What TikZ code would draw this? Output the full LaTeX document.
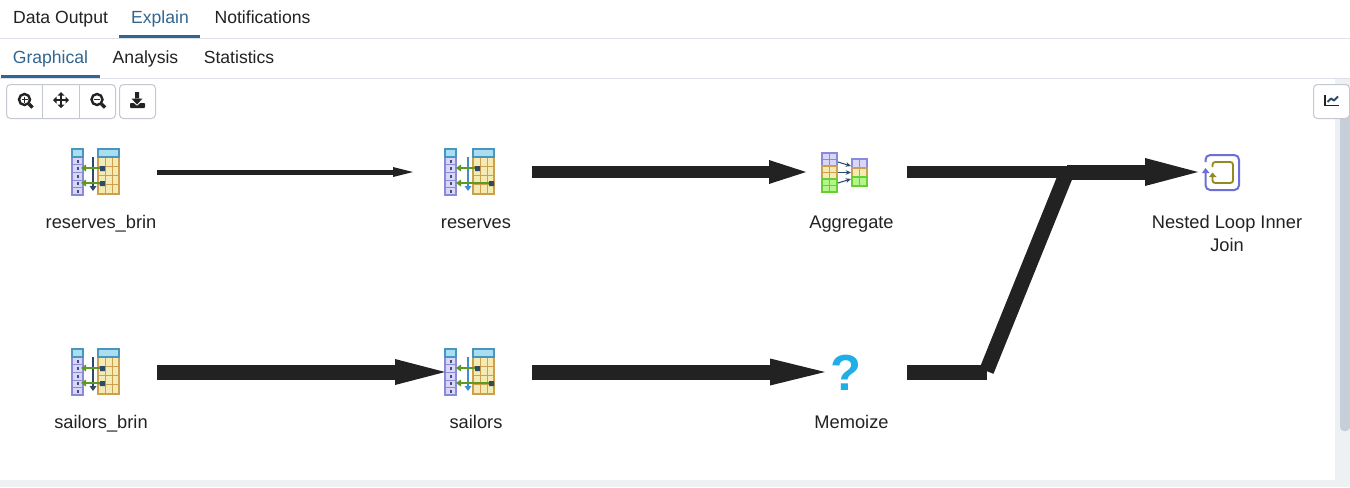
\documentclass[tikz,border=0pt]{standalone}
\usepackage{fontspec}
\setmainfont{Liberation Sans}
\usetikzlibrary{arrows.meta}
\definecolor{ink}{HTML}{222222}
\definecolor{tabblue}{HTML}{326690}
\definecolor{rulec}{HTML}{DDE0E6}
\definecolor{btn}{HTML}{C4C8D0}
\definecolor{scrolltrack}{HTML}{EEF1F4}
\definecolor{scrollthumb}{HTML}{C6CEDA}
\definecolor{lav}{HTML}{D8D8F6}
\definecolor{lavb}{HTML}{8A8ADA}
\definecolor{hdr}{HTML}{A8DEF0}
\definecolor{hdrb}{HTML}{4A94C0}
\definecolor{yel}{HTML}{F3EAB4}
\definecolor{yelb}{HTML}{CDA050}
\definecolor{grn}{HTML}{B4F58C}
\definecolor{grnb}{HTML}{66D030}
\definecolor{arrg}{HTML}{5F9A20}
\definecolor{barblue}{HTML}{3E8FD0}
\definecolor{bardark}{HTML}{2F4A66}
\definecolor{loopb}{HTML}{6A70D8}
\definecolor{loopo}{HTML}{958A20}
\definecolor{qm}{HTML}{1FAEE6}
\tikzset{
  x=0.75pt,y=-0.75pt,
  tab/.style={font=\fontsize{13.2}{15}\selectfont,text=ink,inner sep=0pt,anchor=base},
  tabon/.style={tab,text=tabblue},
  lbl/.style={font=\fontsize{13.7}{17.25}\selectfont,text=ink,inner sep=0pt,align=center,anchor=base},
  anchorbox/.style={inner sep=0pt,minimum size=1pt},
  btnbox/.style={draw=btn,line width=0.75pt,rounded corners=3pt,fill=white},
  conn/.style n args={3}{draw=ink,line width=#1*0.75pt,-{Triangle[length=#2*0.75pt,width=#3*0.75pt,line width=0pt,sep=0pt]}},
  thickline/.style={draw=ink,line width=#1*0.75pt},
  leftcol/.pic={
    \fill[lav] (-24,-15) rectangle (-13,23);
    \fill[hdr] (-24,-23) rectangle (-13,-15);
    \draw[lavb,line width=0.9pt] (-24,-15) rectangle (-13,23);
    \foreach \y in {-7.5,0,8,15.5} \draw[lavb,line width=0.7pt] (-24,\y) -- (-13,\y);
    \draw[hdrb,line width=0.9pt] (-24,-23) rectangle (-13,-15);
    \foreach \y in {-11,-4,4,11.5,19} \fill[black!45!lavb] (-19.5,\y-1.5) rectangle (-17.5,\y+1.5);
  },
  righttab/.pic={
    \fill[yel] (2,-15) rectangle (23,22);
    \fill[hdr] (2,-23) rectangle (23,-15);
    \draw[yelb,line width=0.9pt] (2,-15) rectangle (23,22);
    \foreach \y in {-6,3,12.5} \draw[yelb,line width=0.7pt] (2,\y) -- (23,\y);
    \foreach \x in {9,16} \draw[yelb,line width=0.7pt] (\x,-15) -- (\x,22);
    \draw[hdrb,line width=0.9pt] (2,-23) rectangle (23,-15);
  },
}
\begin{document}
\begin{tikzpicture}
\useasboundingbox (0,0) rectangle (1350,487);
\fill[white] (0,0) rectangle (1350,487);
% scroll areas
\fill[scrolltrack] (1335,79) rectangle (1350,487);
\fill[scrolltrack] (0,480) rectangle (1350,487);
\fill[scrollthumb,rounded corners=3pt] (1340,100) rectangle (1350,431);
% tabs
\draw[rulec,line width=0.75pt] (0,38.5) -- (1350,38.5);
\draw[rulec,line width=0.75pt] (0,78.5) -- (1350,78.5);
\node[tab] (t1) at (60.5,23) {Data Output};
\node[tabon] (t2) at (160,23) {Explain};
\node[tab] (t3) at (262.5,23) {Notifications};
\fill[tabblue] (119,35) rectangle (200,38);
\node[tabon] (t4) at (50.5,63) {Graphical};
\node[tab] (t5) at (145.5,63) {Analysis};
\node[tab] (t6) at (239,63) {Statistics};
\fill[tabblue] (1,75) rectangle (100,78);
% toolbar
\draw[btnbox] (6.5,84.5) rectangle (115.5,118.5);
\draw[btn,line width=0.75pt] (42.5,84.5) -- (42.5,118.5) (79.5,84.5) -- (79.5,118.5);
\draw[btnbox] (119.5,84.5) rectangle (155.5,118.5);
\draw[btnbox] (1313.5,84.5) rectangle (1349.5,118.5);
% magnifiers
\draw[ink,line width=1.8pt] (24.5,99.5) circle (5.5);
\draw[ink,line width=2.4pt] (29,104) -- (32.5,107.5);
\draw[ink,line width=1.2pt] (21.5,99.5) -- (27.5,99.5) (24.5,96.5) -- (24.5,102.5);
\draw[ink,line width=1.8pt] (97,99.5) circle (5.5);
\draw[ink,line width=2.4pt] (101.5,104) -- (105,107.5);
\draw[ink,line width=1.2pt] (94,99.5) -- (100,99.5);
% move
\draw[ink,line width=1.2pt] (54,100) -- (68,100) (61,93) -- (61,107);
\fill[ink] (61,92) -- (64.5,95.5) -- (57.5,95.5) -- cycle
  (61,108) -- (64.5,104.5) -- (57.5,104.5) -- cycle
  (53,100) -- (56.5,96.5) -- (56.5,103.5) -- cycle
  (69,100) -- (65.5,96.5) -- (65.5,103.5) -- cycle;
% download
\fill[ink] (135,92) rectangle (139,99) (131.5,98.5) -- (142.5,98.5) -- (137,104.5) -- cycle;
\fill[ink,rounded corners=0.6pt] (130,103) -- (134,103) -- (137,106) -- (140,103) -- (145,103) -- (145,108) -- (130,108) -- cycle;
% chart
\draw[ink,line width=1.1pt] (1325,95) -- (1325,105.5) -- (1339,105.5);
\draw[bardark,line width=1.5pt,line join=round] (1327.5,102) -- (1331,98.5) -- (1334,100.5) -- (1338,96.5);
% scan icons, index type
\foreach \cx/\cy in {96/172,96/372}{
  \begin{scope}[shift={(\cx,\cy)}]
    \pic {leftcol};
    \pic {righttab};
    \draw[bardark,line width=1.4pt] (-3,-15) -- (-3,15);
    \fill[bardark] (-6.5,14) -- (0.5,14) -- (-3,19) -- cycle;
    \fill[bardark] (4,-6) rectangle (9,-1) (4,9) rectangle (9,14);
    \draw[arrg,line width=1.5pt] (4,-4) -- (-12,-4) (4,11) -- (-12,11);
    \fill[arrg] (-15,-4) -- (-10,-7.5) -- (-10,-0.5) -- cycle (-15,11) -- (-10,7.5) -- (-10,14.5) -- cycle;
  \end{scope}
}
% scan icons, heap type
\foreach \cx/\cy in {471/172,471/372}{
  \begin{scope}[shift={(\cx,\cy)}]
    \pic at (-2,0) {leftcol};
    \pic {righttab};
    \draw[barblue,line width=1.7pt] (-3,-15) -- (-3,15);
    \fill[barblue] (-6.5,14) -- (0.5,14) -- (-3,19) -- cycle;
    \fill[bardark] (4,-6) rectangle (9,-1) (18,9) rectangle (23,14);
    \draw[arrg,line width=1.5pt] (4,-4) -- (-12,-4) (18,11) -- (-12,11);
    \fill[arrg] (-15,-4) -- (-10,-7.5) -- (-10,-0.5) -- cycle (-15,11) -- (-10,7.5) -- (-10,14.5) -- cycle;
  \end{scope}
}
% aggregate icon
\begin{scope}[shift={(845,172)}]
  \fill[lav] (-23,-19) rectangle (-8,-6);
  \fill[yel] (-23,-6) rectangle (-8,7);
  \fill[grn] (-23,7) rectangle (-8,20);
  \draw[lavb,line width=.8pt] (-23,-19) rectangle (-8,-6) (-15.5,-19)--(-15.5,-6) (-23,-12.5)--(-8,-12.5);
  \draw[yelb,line width=.8pt] (-23,-6) rectangle (-8,7) (-15.5,-6)--(-15.5,7) (-23,.5)--(-8,.5);
  \draw[grnb,line width=.8pt] (-23,7) rectangle (-8,20) (-15.5,7)--(-15.5,20) (-23,13.5)--(-8,13.5);
  \fill[lav] (7,-13) rectangle (22,-4);
  \fill[yel] (7,-4) rectangle (22,5);
  \fill[grn] (7,5) rectangle (22,14);
  \draw[lavb,line width=.8pt] (7,-13) rectangle (22,-4) (14.5,-13)--(14.5,-4);
  \draw[yelb,line width=.8pt] (7,-4) rectangle (22,5) (14.5,-4)--(14.5,5);
  \draw[grnb,line width=.8pt] (7,5) rectangle (22,14) (14.5,5)--(14.5,14);
  \draw[bardark,line width=.8pt,-{Stealth[length=4pt,width=3.5pt]}] (-7,-10) -- (6,-6);
  \draw[bardark,line width=.8pt,-{Stealth[length=4pt,width=3.5pt]}] (-7,0.5) -- (6,0.5);
  \draw[bardark,line width=.8pt,-{Stealth[length=4pt,width=3.5pt]}] (-7,11) -- (6,7);
\end{scope}
% nested loop icon
\begin{scope}[shift={(1222,172)}]
  \draw[loopb,line width=1.5pt,rounded corners=3.5pt] (-16.5,-10) -- (-16.5,-17) -- (17,-17) -- (17,18) -- (-16.5,18) -- (-16.5,0);
  \fill[loopb] (-20,1) -- (-12.5,1) -- (-16.5,-4) -- cycle;
  \draw[loopo,line width=1.4pt,rounded corners=2pt] (-9.5,-5) -- (-9.5,-10) -- (11,-10) -- (11,11) -- (-9.5,11) -- (-9.5,4);
  \fill[loopo] (-13,5) -- (-5.5,5) -- (-9.5,0.5) -- cycle;
\end{scope}
% anchors and labels
\node[anchorbox] (rb) at (96,172) {};
\node[anchorbox] (re) at (470,172) {};
\node[anchorbox] (ag) at (845,172) {};
\node[anchorbox] (nl) at (1222,172) {};
\node[anchorbox] (sb) at (96,372) {};
\node[anchorbox] (sa) at (470,372) {};
\node[font=\bfseries\fontsize{38}{38}\selectfont,text=qm,inner sep=0pt] (me) at (845.5,372.5) {?};
\coordinate (mc) at (845,372);
\node[lbl] (l1) at (101,228) {reserves\_brin};
\node[lbl] (l2) at (476,228) {reserves};
\node[lbl] (l3) at (851.5,228) {Aggregate};
\node[lbl] (l4) at (1227,251) {Nested Loop Inner\\Join};
\node[lbl] (l5) at (101,428) {sailors\_brin};
\node[lbl] (l6) at (476,428) {sailors};
\node[lbl] (l7) at (851.5,428) {Memoize};
% connectors
\draw[conn={5}{20}{10}] ([xshift=61*0.75pt]rb.center) -- ([xshift=-57*0.75pt]re.center);
\draw[conn={12}{37}{24}] ([xshift=62*0.75pt]re.center) -- ([xshift=-39*0.75pt]ag.center);
\draw[conn={15}{50}{26}] ([xshift=61*0.75pt]sb.center) -- ([xshift=-25*0.75pt]sa.center);
\draw[conn={15}{55}{27}] ([xshift=62*0.75pt]sa.center) -- ([xshift=-20*0.75pt]mc);
\coordinate (bend) at (1067,172);
\coordinate (low) at (986.5,371);
\draw[thickline=12] ([xshift=62*0.75pt]ag.center) -- (bend);
\draw[thickline=15] ([xshift=62*0.75pt]mc) -- ([xshift=142*0.75pt]mc);
\draw[thickline=15] (low) -- (bend);
\draw[conn={15}{53}{28}] (bend) -- ([xshift=-24*0.75pt]nl.center);
\end{tikzpicture}
\end{document}
